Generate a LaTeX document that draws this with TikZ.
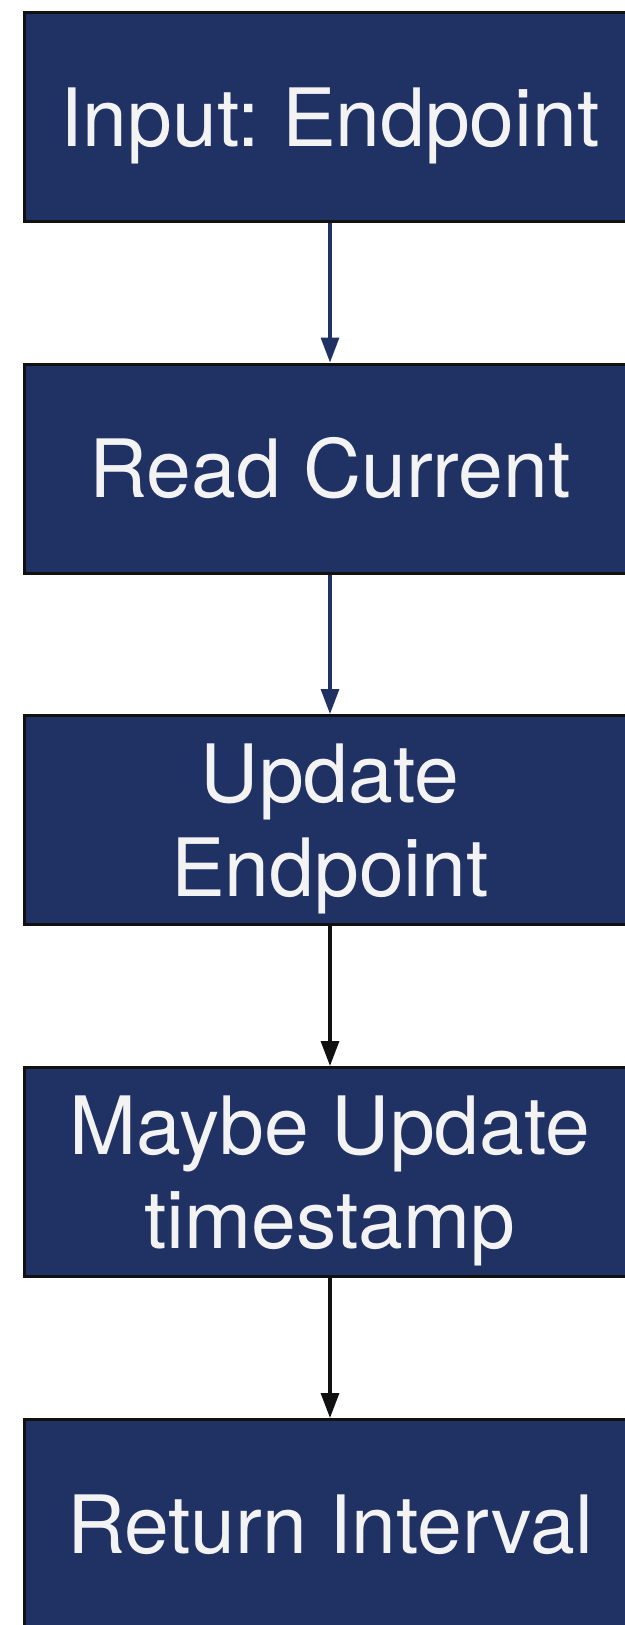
\documentclass[tikz,border=0pt]{standalone}
\usepackage{fontspec}
\usetikzlibrary{arrows.meta}
\newfontfamily\boxfont{TeX Gyre Heros}
\frenchspacing

\definecolor{navy}{RGB}{32,49,99}
\definecolor{ink}{RGB}{17,17,17}
\definecolor{paper}{RGB}{243,243,243}

% two centred lines whose box baseline is the last line's baseline
\newcommand{\stacktwo}[2]{\vbox{\baselineskip=94pt\lineskiplimit=-100pt
  \halign{\hfil##\hfil\cr #1\cr #2\cr}}}

\tikzset{
  stepbox/.style={draw=ink, line width=3pt, fill=navy, text=paper,
    minimum width=611pt, minimum height=209pt, inner sep=0pt,
    font=\boxfont\fontsize{80.5pt}{94pt}\selectfont},
  oneline/.style={text height=58pt, text depth=0pt},
  twoline/.style={text height=152pt, text depth=0pt},
  flow/.style={line width=3.2pt, -{Triangle[length=25pt,width=18pt]}},
}

\begin{document}
\begin{tikzpicture}[x=1pt, y=1pt]
  \useasboundingbox[fill=white] (0,0) rectangle (624,-1625);

  \node[stepbox, oneline] (b1) at (330,-117)  {Input: Endpoint};
  \node[stepbox, oneline] (b2) at (330,-468.5)  {Read Current};
  \node[stepbox, twoline] (b3) at (330,-820)  {\stacktwo{Update}{Endpoint}};
  \node[stepbox, twoline] (b4) at (330,-1172) {\stacktwo{Maybe Update}{timestamp}};
  \node[stepbox, oneline] (b5) at (330,-1524) {Return Interval};

  \draw[flow, navy] (b1.south) -- (b2.north);
  \draw[flow, navy] (b2.south) -- (b3.north);
  \draw[flow, ink]  (b3.south) -- (b4.north);
  \draw[flow, ink]  (b4.south) -- (b5.north);
\end{tikzpicture}
\end{document}
